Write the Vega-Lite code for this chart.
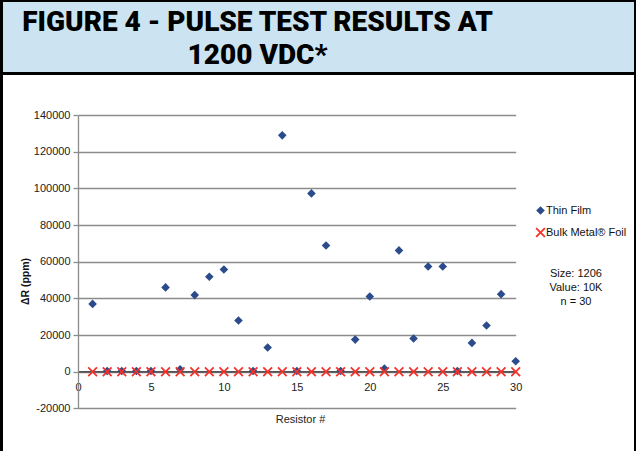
{
  "$schema": "https://vega.github.io/schema/vega-lite/v6.json",
  "background": "#000000",
  "padding": {"left": 3, "top": 2, "right": 2, "bottom": 0},
  "spacing": 3,
  "bounds": "flush",
  "config": {"view": {"stroke": null}, "font": "Liberation Sans"},
  "vconcat": [
    {
      "width": 631,
      "height": 70,
      "view": {"fill": "#cce4f2", "stroke": null},
      "data": {"values": [{"t": "FIGURE 4 - PULSE TEST RESULTS AT\n1200 VDC*"}]},
      "mark": {"type": "text", "font": "Roboto", "fontWeight": 900, "fontSize": 28, "lineBreak": "\n", "lineHeight": 33, "align": "center", "baseline": "middle", "dx": -61, "dy": -14, "color": "#000000"},
      "encoding": {"text": {"field": "t"}}
    },
    {
      "width": 631,
      "height": 376,
      "view": {"fill": "#ffffff", "stroke": null},
      "layer": [
        {
          "data": {"values": [
            {"r": 1, "series": "Thin Film", "dr": 37000},
            {"r": 2, "series": "Thin Film", "dr": 400},
            {"r": 3, "series": "Thin Film", "dr": 400},
            {"r": 4, "series": "Thin Film", "dr": 400},
            {"r": 5, "series": "Thin Film", "dr": 400},
            {"r": 6, "series": "Thin Film", "dr": 46000},
            {"r": 7, "series": "Thin Film", "dr": 1300},
            {"r": 8, "series": "Thin Film", "dr": 41800},
            {"r": 9, "series": "Thin Film", "dr": 51800},
            {"r": 10, "series": "Thin Film", "dr": 55800},
            {"r": 11, "series": "Thin Film", "dr": 27900},
            {"r": 12, "series": "Thin Film", "dr": 400},
            {"r": 13, "series": "Thin Film", "dr": 13200},
            {"r": 14, "series": "Thin Film", "dr": 129000},
            {"r": 15, "series": "Thin Film", "dr": 400},
            {"r": 16, "series": "Thin Film", "dr": 97300},
            {"r": 17, "series": "Thin Film", "dr": 68900},
            {"r": 18, "series": "Thin Film", "dr": 400},
            {"r": 19, "series": "Thin Film", "dr": 17500},
            {"r": 20, "series": "Thin Film", "dr": 41000},
            {"r": 21, "series": "Thin Film", "dr": 1700},
            {"r": 22, "series": "Thin Film", "dr": 66200},
            {"r": 23, "series": "Thin Film", "dr": 18100},
            {"r": 24, "series": "Thin Film", "dr": 57400},
            {"r": 25, "series": "Thin Film", "dr": 57400},
            {"r": 26, "series": "Thin Film", "dr": 400},
            {"r": 27, "series": "Thin Film", "dr": 15700},
            {"r": 28, "series": "Thin Film", "dr": 25200},
            {"r": 29, "series": "Thin Film", "dr": 42300},
            {"r": 30, "series": "Thin Film", "dr": 5700},
            {"r": 1, "series": "Bulk Metal® Foil", "dr": 0},
            {"r": 2, "series": "Bulk Metal® Foil", "dr": 0},
            {"r": 3, "series": "Bulk Metal® Foil", "dr": 0},
            {"r": 4, "series": "Bulk Metal® Foil", "dr": 0},
            {"r": 5, "series": "Bulk Metal® Foil", "dr": 0},
            {"r": 6, "series": "Bulk Metal® Foil", "dr": 0},
            {"r": 7, "series": "Bulk Metal® Foil", "dr": 0},
            {"r": 8, "series": "Bulk Metal® Foil", "dr": 0},
            {"r": 9, "series": "Bulk Metal® Foil", "dr": 0},
            {"r": 10, "series": "Bulk Metal® Foil", "dr": 0},
            {"r": 11, "series": "Bulk Metal® Foil", "dr": 0},
            {"r": 12, "series": "Bulk Metal® Foil", "dr": 0},
            {"r": 13, "series": "Bulk Metal® Foil", "dr": 0},
            {"r": 14, "series": "Bulk Metal® Foil", "dr": 0},
            {"r": 15, "series": "Bulk Metal® Foil", "dr": 0},
            {"r": 16, "series": "Bulk Metal® Foil", "dr": 0},
            {"r": 17, "series": "Bulk Metal® Foil", "dr": 0},
            {"r": 18, "series": "Bulk Metal® Foil", "dr": 0},
            {"r": 19, "series": "Bulk Metal® Foil", "dr": 0},
            {"r": 20, "series": "Bulk Metal® Foil", "dr": 0},
            {"r": 21, "series": "Bulk Metal® Foil", "dr": 0},
            {"r": 22, "series": "Bulk Metal® Foil", "dr": 0},
            {"r": 23, "series": "Bulk Metal® Foil", "dr": 0},
            {"r": 24, "series": "Bulk Metal® Foil", "dr": 0},
            {"r": 25, "series": "Bulk Metal® Foil", "dr": 0},
            {"r": 26, "series": "Bulk Metal® Foil", "dr": 0},
            {"r": 27, "series": "Bulk Metal® Foil", "dr": 0},
            {"r": 28, "series": "Bulk Metal® Foil", "dr": 0},
            {"r": 29, "series": "Bulk Metal® Foil", "dr": 0},
            {"r": 30, "series": "Bulk Metal® Foil", "dr": 0}
          ]},
          "mark": {"type": "point", "filled": true, "opacity": 1, "strokeWidth": 0},
          "encoding": {
            "x": {
              "field": "r", "type": "quantitative",
              "scale": {"domain": [0, 30], "range": [75, 512.7], "nice": false, "zero": false},
              "axis": {
                "offset": -79.6, "ticks": false, "grid": false,
                "domainColor": "#555555", "domainWidth": 1.6,
                "values": [0, 5, 10, 15, 20, 25, 30],
                "labelFontSize": 11, "labelColor": "#222222", "labelPadding": 10,
                "labelFlush": false, "labelOverlap": false,
                "title": "Resistor #", "titleFontSize": 11, "titleFontWeight": "normal",
                "titleColor": "#222222", "titleY": 42, "titleX": 297, "titleBaseline": "top"
              }
            },
            "y": {
              "field": "dr", "type": "quantitative",
              "scale": {"domain": [-20000, 140000], "range": [333.3, 40.2], "nice": false, "zero": false},
              "axis": {
                "offset": -75,
                "values": [-20000, 0, 20000, 40000, 60000, 80000, 100000, 120000, 140000],
                "labelExpr": "'' + datum.value",
                "grid": true, "gridColor": "#8c8c8c", "gridWidth": 1.3,
                "domainColor": "#8c8c8c", "domainWidth": 1.3,
                "tickColor": "#8c8c8c", "tickSize": 5, "tickWidth": 1.3,
                "labelPadding": 3, "labelFontSize": 11, "labelColor": "#222222",
                "labelFlush": false, "labelOverlap": false,
                "title": "ΔR (ppm)", "titleFontSize": 10.5, "titleFontWeight": "bold",
                "titleColor": "#111111", "titleX": -48, "titleY": 206
              }
            },
            "color": {
              "field": "series", "type": "nominal",
              "scale": {"domain": ["Thin Film", "Bulk Metal® Foil"], "range": ["#2b4b8c", "#f5322a"]},
              "legend": {"title": null, "orient": "none", "legendX": 532, "legendY": 203, "padding": 0, "labelFontSize": 11, "labelColor": "#111111", "rowPadding": 10, "labelOffset": 0, "symbolStrokeWidth": 0}
            },
            "shape": {
              "field": "series", "type": "nominal",
              "scale": {"domain": ["Thin Film", "Bulk Metal® Foil"], "range": ["diamond", "M-1,-0.75L-0.75,-1L0,-0.25L0.75,-1L1,-0.75L0.25,0L1,0.75L0.75,1L0,0.25L-0.75,1L-1,0.75L-0.25,0Z"]},
              "legend": {"title": null, "orient": "none", "legendX": 532, "legendY": 203, "padding": 0, "labelFontSize": 11, "labelColor": "#111111", "rowPadding": 10, "labelOffset": 0, "symbolStrokeWidth": 0}
            },
            "size": {
              "field": "series", "type": "nominal",
              "scale": {"domain": ["Thin Film", "Bulk Metal® Foil"], "range": [74, 100]},
              "legend": {"title": null, "orient": "none", "legendX": 532, "legendY": 203, "padding": 0, "labelFontSize": 11, "labelColor": "#111111", "rowPadding": 10, "labelOffset": 0, "symbolStrokeWidth": 0}
            }
          }
        },
        {
          "data": {"values": [{"note": "Size: 1206\nValue: 10K\nn = 30"}]},
          "mark": {"type": "text", "align": "center", "baseline": "middle", "lineBreak": "\n", "lineHeight": 14, "fontSize": 11, "color": "#111111"},
          "encoding": {
            "x": {"datum": 34.13, "type": "quantitative", "axis": {"title": "Resistor #"}},
            "y": {"datum": 53200, "type": "quantitative", "axis": {"title": "ΔR (ppm)"}},
            "text": {"field": "note"}
          }
        }
      ]
    }
  ]
}
